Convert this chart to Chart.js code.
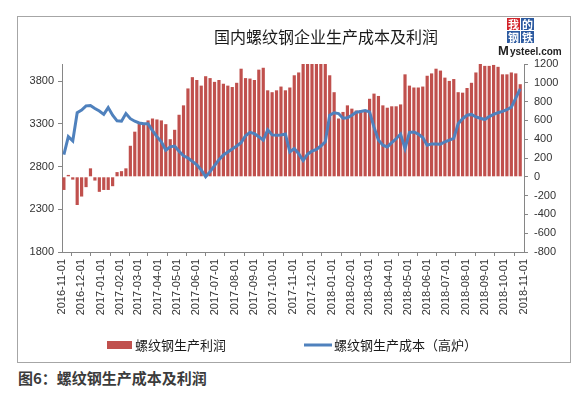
<!DOCTYPE html>
<html>
<head>
<meta charset="utf-8">
<script src="https://cdn.jsdelivr.net/npm/chart.js@4.4.0/dist/chart.umd.min.js"></script>
<style>
  body { margin: 0; width: 582px; height: 393px; background: #fff; position: relative; overflow: hidden; }
  #box { position: absolute; left: 17px; top: 16px; width: 552px; height: 345px; border: 1px solid #a6a6a6; }
  #caption { position: absolute; left: 18px; top: 367px; font: bold 15px "Noto Sans CJK SC", sans-serif; color: #3b3b3b; }
</style>
</head>
<body>
<div id="box"><canvas id="chart" width="552" height="345"></canvas></div>
<div id="caption">图6：螺纹钢生产成本及利润</div>
<script>
// weekly samples
const dates = [
  "2016-11-04","2016-11-11","2016-11-18","2016-11-25","2016-12-02","2016-12-09","2016-12-16","2016-12-23","2016-12-30",
  "2017-01-06","2017-01-13","2017-01-20","2017-01-27","2017-02-03","2017-02-10","2017-02-17","2017-02-24",
  "2017-03-03","2017-03-10","2017-03-17","2017-03-24","2017-03-31","2017-04-07","2017-04-14","2017-04-21","2017-04-28",
  "2017-05-05","2017-05-12","2017-05-19","2017-05-26","2017-06-02","2017-06-09","2017-06-16","2017-06-23","2017-06-30",
  "2017-07-07","2017-07-14","2017-07-21","2017-07-28","2017-08-04","2017-08-11","2017-08-18","2017-08-25",
  "2017-09-01","2017-09-08","2017-09-15","2017-09-22","2017-09-29","2017-10-06","2017-10-13","2017-10-20","2017-10-27",
  "2017-11-03","2017-11-10","2017-11-17","2017-11-24","2017-12-01","2017-12-08","2017-12-15","2017-12-22","2017-12-29",
  "2018-01-05","2018-01-12","2018-01-19","2018-01-26","2018-02-02","2018-02-09","2018-02-16","2018-02-23",
  "2018-03-02","2018-03-09","2018-03-16","2018-03-23","2018-03-30","2018-04-06","2018-04-13","2018-04-20","2018-04-27",
  "2018-05-04","2018-05-11","2018-05-18","2018-05-25","2018-06-01","2018-06-08","2018-06-15","2018-06-22","2018-06-29",
  "2018-07-06","2018-07-13","2018-07-20","2018-07-27","2018-08-03","2018-08-10","2018-08-17","2018-08-24","2018-08-31",
  "2018-09-07","2018-09-14","2018-09-21","2018-09-28","2018-10-05","2018-10-12","2018-10-19","2018-10-26"
];

// 螺纹钢生产利润 (right axis)
const profit = [
  -140, 20, -30, -300, -210, -110, 90, -40, -160,
  -140, -140, -100, 50, 60, 90, 330, 480,
  570, 560, 600, 620, 610, 600, 560, 400, 500,
  660, 760, 940, 1060, 1030, 970, 1070, 1050, 1010,
  1030, 990, 970, 955, 1000, 1150, 1050, 1045,
  1030, 1140, 1160, 920, 900, 920, 960, 920, 950,
  1080, 1110, 1260, 1300, 1320, 1310, 1290, 1270, 1080,
  900, 620, 690, 760, 725, 705, 705, 700,
  830, 885, 860, 760, 735, 750, 750, 770, 1090,
  970, 950, 950, 960, 1075, 1100, 1150, 1130, 1055,
  1020, 1040, 900, 895, 945, 1000, 1110, 1200, 1180,
  1180, 1190, 1170, 1090, 1090, 1110, 1100, 985
];

// 螺纹钢生产成本（高炉） (left axis)
const cost = [
  2940, 3150, 3100, 3430, 3460, 3510, 3515, 3480, 3450,
  3410, 3490, 3400, 3335, 3330, 3420, 3360, 3330,
  3310, 3300, 3300, 3220, 3150, 3090, 2990, 3030, 3040,
  2980, 2925, 2900, 2860, 2820, 2760, 2680, 2740, 2810,
  2880, 2935, 2970, 3005, 3040, 3080, 3160, 3200,
  3185, 3150, 3110, 3230, 3170, 3165, 3170, 3180, 2970,
  3010, 2950, 2870, 2945, 2980, 3000, 3040, 3090, 3400,
  3430, 3420, 3365, 3370, 3400, 3435, 3445, 3455,
  3440, 3260, 3110, 3050, 3030, 3080, 3125, 3180, 3010,
  3200, 3205, 3180, 3140, 3050, 3065, 3065, 3060, 3090,
  3110, 3130, 3300, 3360, 3400, 3410, 3380, 3365, 3350,
  3385, 3410, 3430, 3445, 3465, 3495, 3600, 3710
];

const tickLabels = [
  "2016-11-01","2016-12-01","2017-01-01","2017-02-01","2017-03-01","2017-04-01","2017-05-01",
  "2017-06-01","2017-07-01","2017-08-01","2017-09-01","2017-10-01","2017-11-01","2017-12-01",
  "2018-01-01","2018-02-01","2018-03-01","2018-04-01","2018-05-01","2018-06-01","2018-07-01",
  "2018-08-01","2018-09-01","2018-10-01","2018-11-01"
];
const leftTicks = [1800, 2300, 2800, 3300, 3800];

const day0 = Date.UTC(2016, 10, 1);
function toDay(s) {
  const p = s.split("-").map(Number);
  return (Date.UTC(p[0], p[1] - 1, p[2]) - day0) / 864e5;
}
const tickDays = tickLabels.map(toDay);
const labelByDay = {};
tickLabels.forEach((t, i) => { labelByDay[tickDays[i]] = t; });

const barColor = "#c0504d";
const lineColor = "#4f81bd";
const axisColor = "#868686";
const tickFont = { family: "'Liberation Sans', 'DejaVu Sans', sans-serif", size: 11 };
const cjk = "'Noto Sans CJK SC', sans-serif";

const decor = {
  id: "decor",
  afterDraw(chart) {
    const c = chart.ctx;
    c.save();
    // title
    c.fillStyle = "#1a1a1a";
    c.font = "16px " + cjk;
    c.textAlign = "center";
    c.textBaseline = "middle";
    c.fillText("国内螺纹钢企业生产成本及利润", 308, 20);

    // logo
    const cells = [["我", "#d2232a", 489, 1], ["的", "#2c5aa0", 503, 1], ["钢", "#2c5aa0", 489, 14], ["铁", "#2c5aa0", 503, 14]];
    c.font = "bold 11px " + cjk;
    cells.forEach(([t, col, x, y]) => {
      c.fillStyle = col;
      c.fillRect(x, y, 13, 12);
      c.fillStyle = "#fff";
      c.fillText(t, x + 6.5, y + 6.5);
    });
    c.fillStyle = "#222";
    c.textAlign = "left";
    c.font = "bold 13px 'Liberation Sans', sans-serif";
    c.fillText("M", 480, 34);
    c.font = "bold 10px 'Liberation Sans', sans-serif";
    c.fillText("ysteel.com", 492, 35);

    // legend
    c.font = "13px " + cjk;
    c.fillStyle = barColor;
    c.fillRect(89, 324, 25, 8);
    c.fillStyle = "#1a1a1a";
    c.fillText("螺纹钢生产利润", 117, 328);
    c.strokeStyle = lineColor;
    c.lineWidth = 3;
    c.beginPath();
    c.moveTo(286, 328);
    c.lineTo(314, 328);
    c.stroke();
    c.fillText("螺纹钢生产成本（高炉）", 316, 328);
    c.restore();
  }
};

const ctx = document.getElementById("chart").getContext("2d");
new Chart(ctx, {
  type: "bar",
  data: {
    datasets: [
      {
        type: "line",
        label: "螺纹钢生产成本（高炉）",
        data: dates.map((d, i) => ({ x: toDay(d), y: cost[i] })),
        yAxisID: "y",
        borderColor: lineColor,
        borderWidth: 3,
        pointRadius: 0,
        tension: 0,
        order: 0
      },
      {
        type: "bar",
        label: "螺纹钢生产利润",
        data: dates.map((d, i) => ({ x: toDay(d), y: profit[i] })),
        yAxisID: "y1",
        backgroundColor: barColor,
        barPercentage: 0.72,
        categoryPercentage: 1,
        order: 1
      }
    ]
  },
  options: {
    responsive: false,
    animation: false,
    layout: { padding: { top: 47, left: 0, right: 0, bottom: 0 } },
    plugins: { legend: { display: false }, tooltip: { enabled: false } },
    scales: {
      x: {
        type: "linear",
        min: 0,
        max: toDay("2018-11-01"),
        offset: false,
        afterBuildTicks: s => { s.ticks = tickDays.map(v => ({ value: v })); },
        afterFit: s => { s.height = 110; },
        ticks: {
          autoSkip: false,
          minRotation: 90,
          maxRotation: 90,
          padding: 3,
          color: "#333",
          font: tickFont,
          callback: v => labelByDay[v] || ""
        },
        grid: { drawOnChartArea: false, tickLength: 4, color: axisColor },
        border: { color: axisColor }
      },
      y: {
        position: "left",
        min: 1800,
        max: 4000,
        afterBuildTicks: s => { s.ticks = leftTicks.map(v => ({ value: v })); },
        afterFit: s => { s.width = 44; },
        ticks: { padding: 4, color: "#333", font: tickFont, callback: v => String(v) },
        grid: { drawOnChartArea: false, tickLength: 4, color: axisColor },
        border: { color: axisColor }
      },
      y1: {
        position: "right",
        min: -800,
        max: 1200,
        afterFit: s => { s.width = 46; },
        ticks: { stepSize: 200, padding: 6, color: "#333", font: tickFont, callback: v => String(v) },
        grid: { drawOnChartArea: false, tickLength: 4, color: axisColor },
        border: { color: axisColor }
      }
    }
  },
  plugins: [decor]
});
</script>
</body>
</html>
